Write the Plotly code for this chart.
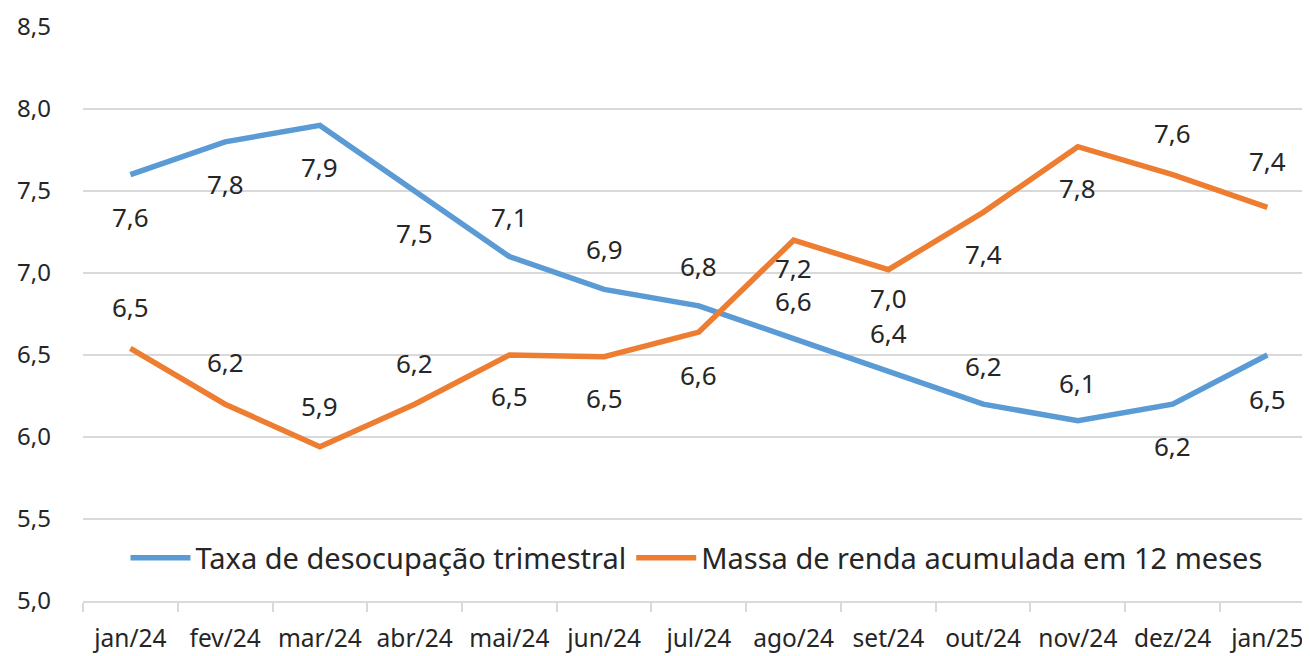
import plotly.graph_objects as go

months = ["jan/24", "fev/24", "mar/24", "abr/24", "mai/24", "jun/24", "jul/24",
          "ago/24", "set/24", "out/24", "nov/24", "dez/24", "jan/25"]
taxa = [7.6, 7.8, 7.9, 7.5, 7.1, 6.9, 6.8, 6.6, 6.4, 6.2, 6.1, 6.2, 6.5]
massa = [6.54, 6.2, 5.94, 6.2, 6.5, 6.49, 6.64, 7.2, 7.02, 7.37, 7.77, 7.6, 7.4]
# label placement: +1 above, -1 below
taxa_pos = [-1, -1, -1, -1, 1, 1, 1, 1, 1, 1, 1, -1, -1]
massa_pos = [1, 1, 1, 1, -1, -1, -1, -1, -1, -1, -1, 1, 1]
yticks = [5.0, 5.5, 6.0, 6.5, 7.0, 7.5, 8.0, 8.5]

BLUE = "#5B9BD5"
ORANGE = "#ED7D31"
TXT = "#262626"
FONT = "Noto Sans"

fig = go.Figure()
fig.add_trace(go.Scatter(x=months, y=taxa, mode="lines", name="Taxa de desocupação trimestral",
                         line=dict(color=BLUE, width=5.5)))
fig.add_trace(go.Scatter(x=months, y=massa, mode="lines", name="Massa de renda acumulada em 12 meses",
                         line=dict(color=ORANGE, width=5.5)))

def fmt(v):
    return f"{v:.1f}".replace(".", ",")

# label distance from the line (px); the crowded ago/set labels sit closer
taxa_shift = [42, 42, 42, 42, 40, 40, 40, 38, 38, 38, 38, 42, 44]
massa_shift = [41, 42, 41, 41, 41, 41, 43, 28, 28, 42, 41, 42, 46]

anns = []
for ys, ps, ds in [(taxa, taxa_pos, taxa_shift), (massa, massa_pos, massa_shift)]:
    for x, y, p, d in zip(months, ys, ps, ds):
        anns.append(dict(x=x, y=y, xref="x", yref="y", text=fmt(y), showarrow=False,
                         yshift=d * p, font=dict(size=26, color=TXT, family=FONT)))

fig.update_layout(
    width=1302, height=648,
    margin=dict(l=75, r=0, t=19, b=55),
    plot_bgcolor="white", paper_bgcolor="white",
    separators=",.",
    font=dict(family=FONT, color=TXT, size=25),
    annotations=anns,
    showlegend=True,
    legend=dict(orientation="h", x=0.5, xanchor="center", y=0.075, yanchor="middle",
                font=dict(size=29, color=TXT, family=FONT), bgcolor="rgba(0,0,0,0)",
                itemwidth=60),
    xaxis=dict(type="category", range=[-0.5, 12.45], showgrid=False, showline=True,
               linecolor="#D9D9D9", linewidth=1.5, ticks="outside", tickson="boundaries",
               ticklen=9, tickcolor="#D9D9D9", tickwidth=1.5, ticklabelstandoff=15,
               tickangle=0, automargin=False,
               tickfont=dict(size=24.5, color=TXT, family=FONT)),
    yaxis=dict(range=[5.0, 8.5], tickvals=yticks, tickformat=".1f", showgrid=True,
               gridcolor="#D9D9D9", gridwidth=1.5, zeroline=False, showline=False,
               ticklabelstandoff=31, automargin=False,
               tickfont=dict(size=24, color=TXT, family=FONT)),
)

fig.write_html("out.html")
